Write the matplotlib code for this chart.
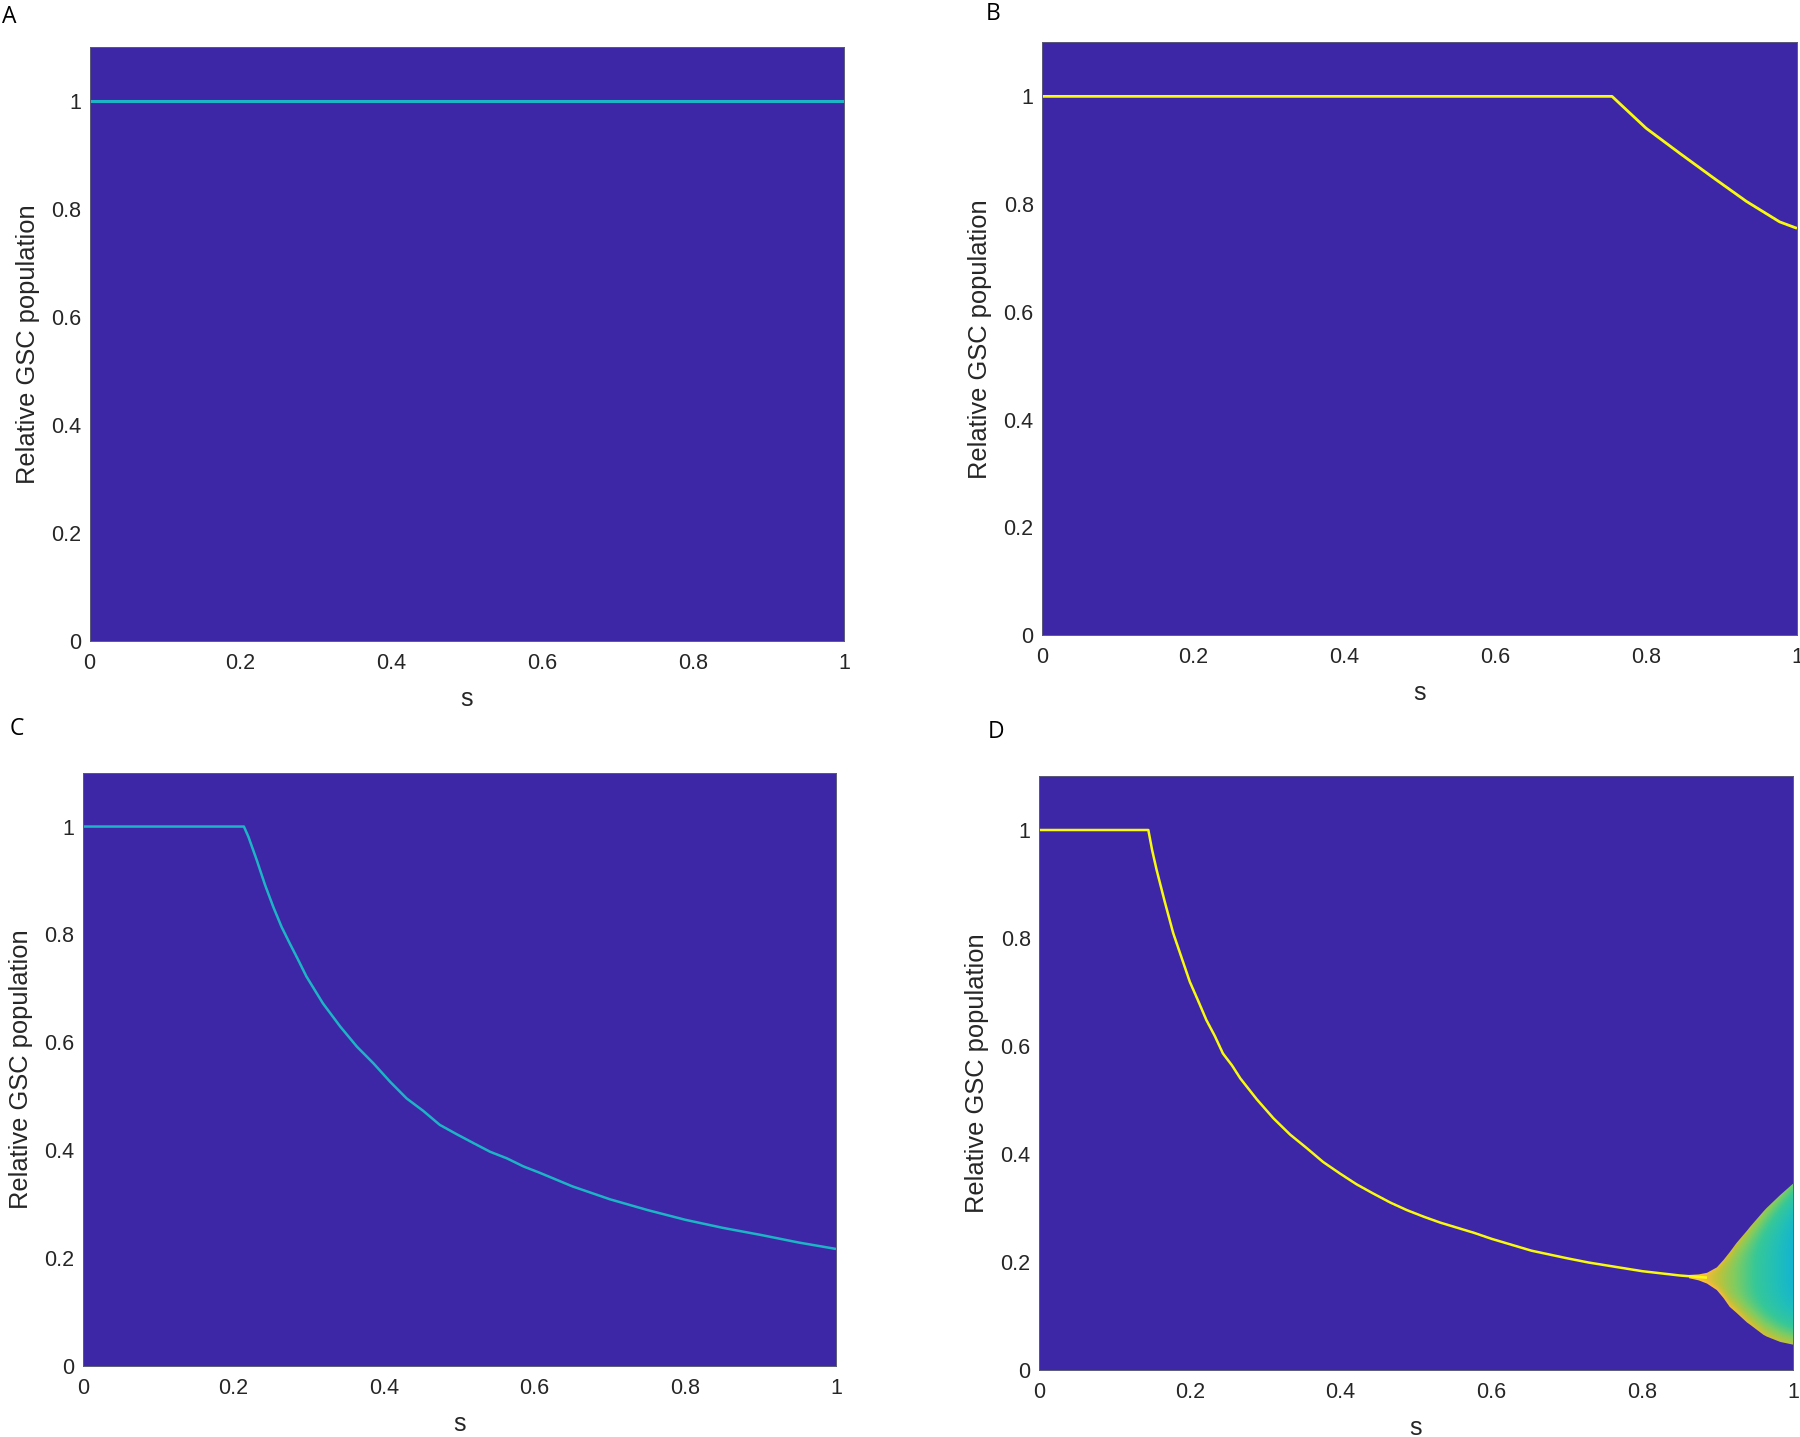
import numpy as np
import matplotlib
matplotlib.use('Agg')
from matplotlib import pyplot as plt
from matplotlib.colors import LinearSegmentedColormap

# values (s, relative GSC population)
s_a = [0.0, 1.0]
y_a = [1.0, 1.0]

s_b = [0.0, 0.755, 0.80, 0.845, 0.89, 0.933, 0.977, 1.0]
y_b = [1.0, 1.0, 0.941, 0.894, 0.848, 0.805, 0.767, 0.755]

s_c = [0.0, 0.214, 0.220, 0.231, 0.242, 0.253, 0.264, 0.275, 0.286, 0.297,
       0.319, 0.342, 0.364, 0.386, 0.408, 0.43, 0.452, 0.474, 0.496, 0.519,
       0.541, 0.563, 0.585, 0.607, 0.65, 0.7, 0.75, 0.8, 0.85, 0.9, 0.95, 1.0]
y_c = [1.0, 1.0, 0.981, 0.938, 0.892, 0.851, 0.814, 0.783, 0.753, 0.722,
       0.672, 0.629, 0.592, 0.561, 0.527, 0.496, 0.473, 0.447, 0.430, 0.413,
       0.397, 0.385, 0.370, 0.358, 0.333, 0.309, 0.289, 0.271, 0.256, 0.243,
       0.229, 0.217]

s_d = [0.0, 0.145, 0.150, 0.156, 0.167, 0.178, 0.189, 0.2, 0.211, 0.222,
       0.233, 0.244, 0.256, 0.267, 0.289, 0.311, 0.333, 0.355, 0.377, 0.399,
       0.421, 0.443, 0.466, 0.488, 0.51, 0.532, 0.577, 0.6, 0.653, 0.7,
       0.729, 0.8, 0.85, 0.886]
y_d = [1.0, 1.0, 0.963, 0.926, 0.866, 0.809, 0.764, 0.719, 0.684, 0.648,
       0.619, 0.586, 0.564, 0.540, 0.501, 0.466, 0.436, 0.411, 0.385, 0.364,
       0.344, 0.327, 0.310, 0.296, 0.284, 0.273, 0.254, 0.243, 0.221, 0.207,
       0.199, 0.183, 0.175, 0.171]

# spread of the population past the bifurcation in panel D
s_fan = [0.862, 0.875, 0.886, 0.899, 0.908, 0.916, 0.925, 0.939, 0.943,
         0.961, 0.965, 0.983, 1.0]
fan_hi = [0.176, 0.177, 0.180, 0.190, 0.204, 0.218, 0.235, 0.258, 0.265,
          0.294, 0.300, 0.324, 0.345]
fan_lo = [0.170, 0.166, 0.160, 0.148, 0.133, 0.117, 0.106, 0.088, 0.084,
          0.065, 0.062, 0.052, 0.047]

tick_vals = [0, 0.2, 0.4, 0.6, 0.8, 1]
tick_labels = ['0', '0.2', '0.4', '0.6', '0.8', '1']
panel_letters = ['A', 'B', 'C', 'D']

# matlab parula
parula = LinearSegmentedColormap.from_list('parula', [
    (0.2422, 0.1504, 0.6603), (0.2810, 0.3228, 0.9579), (0.1786, 0.5289, 0.9682),
    (0.0689, 0.6948, 0.8394), (0.13, 0.75, 0.72), (0.2161, 0.7843, 0.5923),
    (0.50, 0.80, 0.38), (0.76, 0.76, 0.22), (0.99, 0.73, 0.24),
    (0.96, 0.87, 0.15), (0.9763, 0.9831, 0.0538)])

bg = '#3D27A6'
cyan = '#1DB5C6'
yellow = '#F9FB0E'
txt = '#262626'

plt.rcParams['font.family'] = ['Liberation Sans', 'DejaVu Sans']

fig = plt.figure(figsize=(18, 14.37), dpi=100)
W, H = 1800.0, 1437.0
# axes boxes in pixels: left, top, right, bottom
boxes = [(89.5, 47, 844, 640.6), (1042, 42.5, 1797, 635),
         (82.7, 772.6, 836, 1366), (1039, 776, 1793, 1370)]
letter_pos = [(9, 17), (993, 14), (17, 729), (996, 732)]

axes = []
for (l, t, r, b) in boxes:
    ax = fig.add_axes([l / W, 1 - b / H, (r - l) / W, (b - t) / H])
    ax.set_facecolor(bg)
    ax.set_xlim(0, 1)
    ax.set_ylim(0, 1.1)
    ax.set_xticks(tick_vals)
    ax.set_xticklabels(tick_labels)
    ax.set_yticks(tick_vals)
    ax.set_yticklabels(tick_labels)
    ax.tick_params(length=0, labelsize=15.5, colors=txt)
    ax.tick_params(axis='x', pad=9)
    ax.tick_params(axis='y', pad=6)
    for sp in ax.spines.values():
        sp.set_color('#5a5a7a')
        sp.set_linewidth(0.7)
    ax.set_xlabel('s', fontsize=18, color=txt, va='center')
    ax.set_ylabel('Relative GSC population', fontsize=18.4, color=txt, va='center')
    ax.xaxis.set_label_coords(0.5, -58 / (b - t))
    ax.yaxis.set_label_coords(-62 / (r - l), 0.5)
    axes.append(ax)

for (x, y), letter in zip(letter_pos, panel_letters):
    fig.text(x / W, 1 - y / H, letter, ha='center', va='center',
             fontsize=16.5, family='Open Sans', color='black')

axes[0].plot(s_a, y_a, color=cyan, lw=2.2, solid_capstyle='butt')
axes[1].plot(s_b, y_b, color=yellow, lw=2.0, solid_capstyle='butt')
axes[2].plot(s_c, y_c, color=cyan, lw=1.8, solid_capstyle='butt')
axes[3].plot(s_d, y_d, color=yellow, lw=1.8, solid_capstyle='butt')

# panel D fan, shaded with a parula gradient clipped to the band
ax = axes[3]
band = ax.fill_between(s_fan, fan_lo, fan_hi, color='none', lw=0)
gx = np.linspace(s_fan[0], 1.0, 300)
gy = np.linspace(0.0, 0.4, 300)
GX, GY = np.meshgrid(gx, gy)
hi = np.interp(GX, s_fan, fan_hi)
lo = np.interp(GX, s_fan, fan_lo)
mid = (hi + lo) / 2
half = np.maximum((hi - lo) / 2, 1e-4)
t = np.clip(np.abs(GY - mid) / half, 0, 1)
edge = np.where(GY < mid, 0.36, 0.26)
u = np.clip((GX - 0.875) / 0.125, 0, 1)
val = 0.84 - u ** 0.8 * (0.52 - edge * t ** 3)
img = ax.imshow(val, extent=[gx[0], gx[-1], gy[0], gy[-1]], origin='lower',
                cmap=parula, vmin=0, vmax=1, aspect='auto', interpolation='bilinear')
img.set_clip_path(band.get_paths()[0], transform=ax.transData)
ax.set_xlim(0, 1)
ax.set_ylim(0, 1.1)

plt.savefig('out.png', dpi=100)
